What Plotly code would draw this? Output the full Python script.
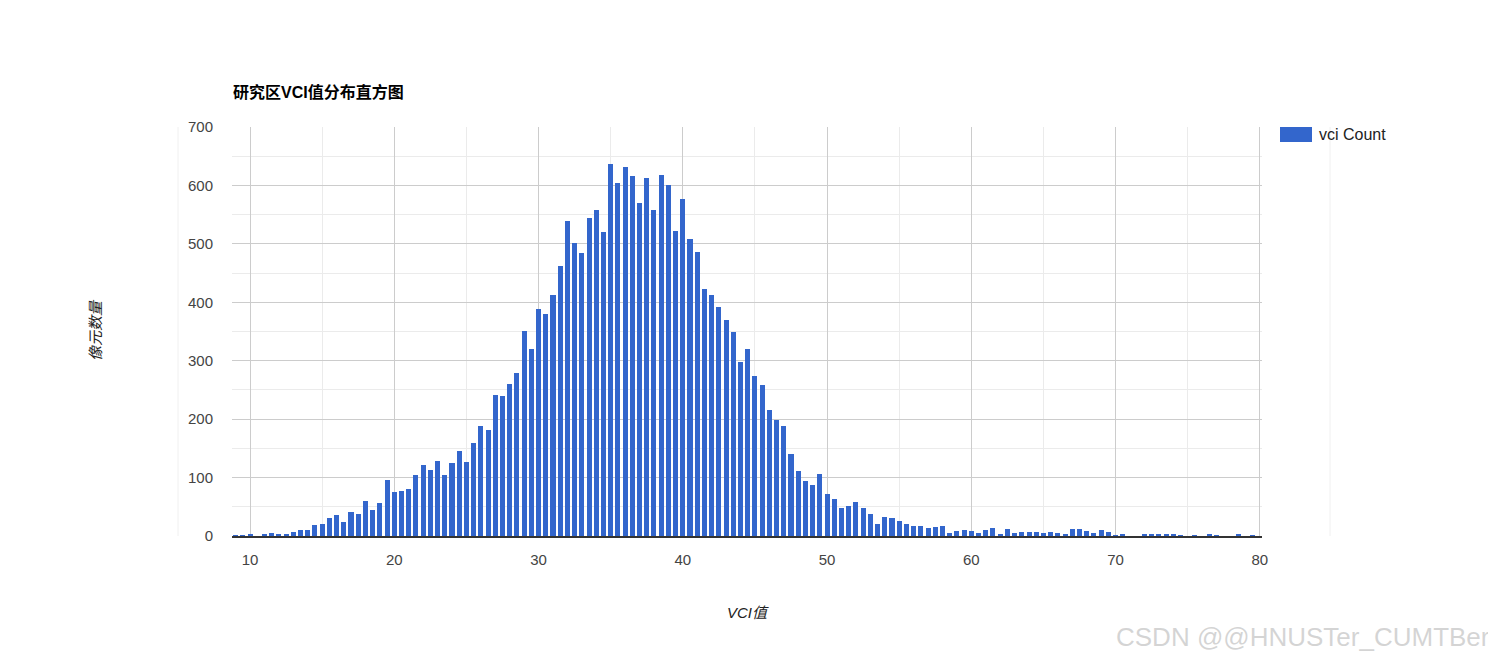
import plotly.graph_objects as go

# Histogram bins (VCI value, bin centre) and pixel counts
vci_bins = [
    9.0, 9.5, 10.0, 10.5, 11.0, 11.5, 12.0, 12.5, 13.0, 13.5, 14.0, 14.5,
    15.0, 15.5, 16.0, 16.5, 17.0, 17.5, 18.0, 18.5, 19.0, 19.5, 20.0, 20.5,
    21.0, 21.5, 22.0, 22.5, 23.0, 23.5, 24.0, 24.5, 25.0, 25.5, 26.0, 26.5,
    27.0, 27.5, 28.0, 28.5, 29.0, 29.5, 30.0, 30.5, 31.0, 31.5, 32.0, 32.5,
    33.0, 33.5, 34.0, 34.5, 35.0, 35.5, 36.0, 36.5, 37.0, 37.5, 38.0, 38.5,
    39.0, 39.5, 40.0, 40.5, 41.0, 41.5, 42.0, 42.5, 43.0, 43.5, 44.0, 44.5,
    45.0, 45.5, 46.0, 46.5, 47.0, 47.5, 48.0, 48.5, 49.0, 49.5, 50.0, 50.5,
    51.0, 51.5, 52.0, 52.5, 53.0, 53.5, 54.0, 54.5, 55.0, 55.5, 56.0, 56.5,
    57.0, 57.5, 58.0, 58.5, 59.0, 59.5, 60.0, 60.5, 61.0, 61.5, 62.0, 62.5,
    63.0, 63.5, 64.0, 64.5, 65.0, 65.5, 66.0, 66.5, 67.0, 67.5, 68.0, 68.5,
    69.0, 69.5, 70.0, 70.5, 71.0, 71.5, 72.0, 72.5, 73.0, 73.5, 74.0, 74.5,
    75.0, 75.5, 76.0, 76.5, 77.0, 77.5, 78.0, 78.5, 79.0, 79.5, 80.0,
]
vci_counts = [
    1, 1, 2, 0, 3, 5, 2, 3, 7, 10, 10, 19,
    21, 31, 36, 24, 41, 38, 60, 44, 56, 96, 75, 77,
    80, 104, 122, 113, 128, 104, 125, 145, 127, 159, 188, 181,
    241, 240, 260, 279, 351, 320, 388, 380, 412, 462, 539, 501,
    484, 544, 558, 520, 637, 604, 631, 616, 570, 613, 558, 618,
    601, 522, 577, 508, 486, 423, 412, 392, 370, 350, 298, 320,
    274, 258, 216, 199, 188, 140, 111, 94, 87, 106, 72, 63,
    48, 51, 58, 48, 38, 21, 33, 31, 26, 21, 17, 17,
    14, 15, 17, 5, 9, 10, 9, 5, 10, 14, 3, 12,
    5, 7, 7, 7, 5, 7, 5, 3, 12, 12, 9, 5,
    10, 7, 1, 3, 0, 0, 2, 2, 3, 3, 2, 1,
    0, 1, 0, 2, 1, 0, 0, 2, 0, 1, 0,
]

x_ticks = [10, 20, 30, 40, 50, 60, 70, 80]
y_ticks = [0, 100, 200, 300, 400, 500, 600, 700]

title_text = "研究区VCI值分布直方图"
x_title = "VCI值"
y_title = "像元数量"
series_name = "vci Count"
watermark = "CSDN @@HNUSTer_CUMTBer"

BAR_COLOR = "#3366cc"
FONT = "Liberation Sans, Arial, Noto Sans CJK SC, sans-serif"
CJK_FONT = "Liberation Sans, Noto Sans CJK SC, sans-serif"

OFF = 8  # page body margin
W, H = 1496, 664
# plot area in page pixels
PL, PR, PT, PB = 232, 1262, 127, 536
L, R, T, B = PL - OFF, PR - OFF, PT - OFF, PB - OFF


def px(xp):
    return (xp - PL) / (PR - PL)


def py(yp):
    return (PB - yp) / (PB - PT)


fig = go.Figure()
fig.add_trace(go.Bar(
    x=vci_bins, y=vci_counts, name=series_name,
    marker=dict(color=BAR_COLOR, line=dict(width=0)),
    width=0.35, showlegend=False,
))

fig.update_layout(
    width=W, height=H,
    margin=dict(l=L, r=W - R, t=T, b=H - B, pad=0),
    paper_bgcolor="white", plot_bgcolor="white",
    font=dict(family=FONT, size=15, color="#444444"),
    bargap=0,
)

fig.update_xaxes(
    range=[8.75, 80.15], tickvals=x_ticks, ticktext=[str(v) for v in x_ticks],
    showgrid=True, gridcolor="#cccccc", gridwidth=1,
    minor=dict(dtick=5, tick0=0, showgrid=True, gridcolor="#ebebeb", gridwidth=1),
    showline=True, linecolor="#333333", linewidth=1.5,
    ticks="outside", ticklen=9, tickcolor="rgba(0,0,0,0)",
    tickfont=dict(size=15, color="#444444"), zeroline=False,
)
fig.update_yaxes(
    range=[0, 700], tickvals=y_ticks, ticktext=[str(v) for v in y_ticks],
    showgrid=True, gridcolor="#cccccc", gridwidth=1,
    minor=dict(dtick=50, tick0=0, showgrid=True, gridcolor="#ebebeb", gridwidth=1),
    showline=False, zeroline=False,
    ticks="outside", ticklen=15, tickcolor="rgba(0,0,0,0)",
    tickfont=dict(size=15, color="#444444"),
)

ann = []
ann.append(dict(text="<b>" + title_text + "</b>", xref="paper", yref="paper",
                x=px(231), y=py(92), xanchor="left", yanchor="middle",
                showarrow=False, font=dict(family=CJK_FONT, size=16, color="#000000")))
ann.append(dict(text="<i>" + x_title + "</i>", xref="paper", yref="paper",
                x=px(748), y=py(612), xanchor="center", yanchor="middle",
                showarrow=False, font=dict(family=CJK_FONT, size=15, color="#222222")))
ann.append(dict(text="<i>" + y_title + "</i>", xref="paper", yref="paper",
                x=px(95), y=py(330), xanchor="center", yanchor="middle",
                textangle=-90, showarrow=False, font=dict(family=CJK_FONT, size=15, color="#222222")))
ann.append(dict(text=series_name, xref="paper", yref="paper",
                x=px(1317), y=py(134), xanchor="left", yanchor="middle",
                showarrow=False, font=dict(family=FONT, size=16, color="#222222")))
ann.append(dict(text=watermark, xref="paper", yref="paper",
                x=px(1492), y=py(637), xanchor="right", yanchor="middle",
                showarrow=False, font=dict(family=FONT, size=26, color="rgba(170,170,170,0.5)")))
fig.update_layout(annotations=ann)

shapes = []
# legend swatch
shapes.append(dict(type="rect", xref="paper", yref="paper",
                   x0=px(1280), x1=px(1312), y0=py(142), y1=py(127),
                   fillcolor=BAR_COLOR, line=dict(width=0)))
# faint frame lines
for xp in (178, 1330):
    shapes.append(dict(type="line", xref="paper", yref="paper",
                       x0=px(xp), x1=px(xp), y0=0, y1=1,
                       line=dict(color="#f0f0f0", width=1)))
fig.update_layout(shapes=shapes)

fig.write_html("out.html")
